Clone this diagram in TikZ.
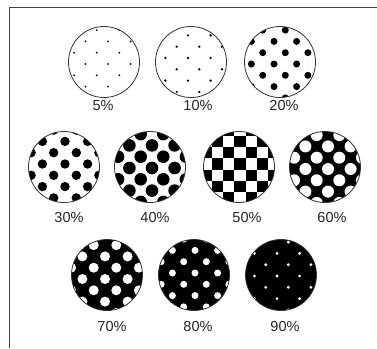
\documentclass[tikz,border=0pt]{standalone}
\usepackage{fontspec}
\setmainfont{Liberation Sans}
\newcommand\myhalftone[7]{% cx cy dotr ox oy bg fg
  \begin{scope}
    \clip (#1,#2) circle (35.5pt);
    \fill[#6] (#1,#2) circle (35.5pt);
    \foreach \i in {-4,...,4}{\foreach \j in {-4,...,4}{
      \fill[#7] ({#1+#4+(\i+\j)*11.3},{#2+#5+(\i-\j)*11.3}) circle (#3pt);
    }}
  \end{scope}}
\newcommand\mychecker[4]{% cx cy ox oy
  \begin{scope}
    \clip (#1,#2) circle (35.5pt);
    \foreach \i in {-4,...,4}{\foreach \j in {-4,...,4}{
      \fill[black] ({#1+#3+(\i+\j)*11.3-5.65},{#2+#4+(\i-\j)*11.3-5.65}) rectangle +(11.3,11.3);
    }}
  \end{scope}}
\tikzset{
  disc/.style={circle, draw=black!80, line width=0.8pt, minimum size=71pt, inner sep=0pt},
  lbl/.style={font=\fontsize{14.5}{16}\selectfont, text=black!85, anchor=base, inner sep=0pt},
  frameline/.style={draw=black!75, line width=1.4pt}
}
\begin{document}
\begin{tikzpicture}[x=1pt, y=-1pt]
\useasboundingbox (0,0) rectangle (377,348);
\fill[white] (0,0) rectangle (377,348);
\draw[frameline] (9.5,348) -- (9.5,7.5) -- (377,7.5);
% row 1
\myhalftone{104}{62}{1.0}{4}{2}{white}{black}
\node[disc] (c5) at (104,62) {};
\node[lbl] (l5) at (103,110) {5\%};
\myhalftone{191}{62}{1.3}{-3}{-4}{white}{black}
\node[disc] (c10) at (191,62) {};
\node[lbl] (l10) at (198,110) {10\%};
\myhalftone{280}{62}{3.5}{-6}{2}{white}{black}
\node[disc] (c20) at (280,62) {};
\node[lbl] (l20) at (284,110) {20\%};
% row 2
\myhalftone{64}{167}{4.7}{1}{-3}{white}{black}
\node[disc] (c30) at (64,167) {};
\node[lbl] (l30) at (69,222) {30\%};
\myhalftone{150}{167}{6.3}{2}{1}{white}{black}
\node[disc] (c40) at (150,167) {};
\node[lbl] (l40) at (155,222) {40\%};
\mychecker{239}{167}{1}{-3}
\node[disc] (c50) at (239,167) {};
\node[lbl] (l50) at (247,222) {50\%};
\myhalftone{325}{167}{6.0}{3}{2}{black}{white}
\node[disc] (c60) at (325,167) {};
\node[lbl] (l60) at (332,222) {60\%};
% row 3
\myhalftone{107}{275}{5.0}{-2}{4}{black}{white}
\node[disc] (c70) at (107,275) {};
\node[lbl] (l70) at (112,331) {70\%};
\myhalftone{194}{275}{3.5}{1}{-2}{black}{white}
\node[disc] (c80) at (194,275) {};
\node[lbl] (l80) at (198,331) {80\%};
\myhalftone{281}{275}{1.6}{-4}{1}{black}{white}
\node[disc] (c90) at (281,275) {};
\node[lbl] (l90) at (285,331) {90\%};
\end{tikzpicture}
\end{document}
